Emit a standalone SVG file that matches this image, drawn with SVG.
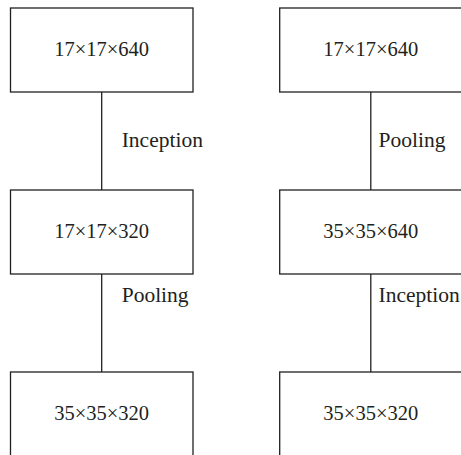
<svg xmlns="http://www.w3.org/2000/svg" width="461" height="455" viewBox="0 0 461 455">
  <style>
    .box { fill: #ffffff; stroke: #231f20; stroke-width: 1.3; }
    .link { stroke: #231f20; stroke-width: 1.3; fill: none; }
    .t { font-family: "Liberation Serif", "Times New Roman", serif; font-size: 20.5px; fill: #231f20; }
    .lbl { font-size: 21.5px; }
    .c { text-anchor: middle; }
  </style>
  <rect width="461" height="455" fill="#ffffff"/>

  <!-- connectors with their operation labels -->
  <g id="connectors">
    <line class="link" x1="101.7" y1="92" x2="101.7" y2="190"/>
    <line class="link" x1="101.7" y1="274" x2="101.7" y2="372"/>
    <line class="link" x1="370.8" y1="92" x2="370.8" y2="190"/>
    <line class="link" x1="370.8" y1="274" x2="370.8" y2="372"/>
    <text class="t lbl" x="121.7" y="147">Inception</text>
    <text class="t lbl" x="121.7" y="302">Pooling</text>
    <text class="t lbl" x="378.5" y="147">Pooling</text>
    <text class="t lbl" x="378.5" y="302">Inception</text>
  </g>

  <!-- left column -->
  <g id="l1">
    <rect class="box" x="10.5" y="8" width="182.5" height="84"/>
    <text class="t c" x="101.7" y="56">17×17×640</text>
  </g>
  <g id="l2">
    <rect class="box" x="10.5" y="190" width="182.5" height="84"/>
    <text class="t c" x="101.7" y="238">17×17×320</text>
  </g>
  <g id="l3">
    <rect class="box" x="10.5" y="372" width="182.5" height="100"/>
    <text class="t c" x="101.7" y="420">35×35×320</text>
  </g>

  <!-- right column -->
  <g id="r1">
    <rect class="box" x="279.7" y="8" width="182.5" height="84"/>
    <text class="t c" x="370.8" y="56">17×17×640</text>
  </g>
  <g id="r2">
    <rect class="box" x="279.7" y="190" width="182.5" height="84"/>
    <text class="t c" x="370.8" y="238">35×35×640</text>
  </g>
  <g id="r3">
    <rect class="box" x="279.7" y="372" width="182.5" height="100"/>
    <text class="t c" x="370.8" y="420">35×35×320</text>
  </g>
</svg>
